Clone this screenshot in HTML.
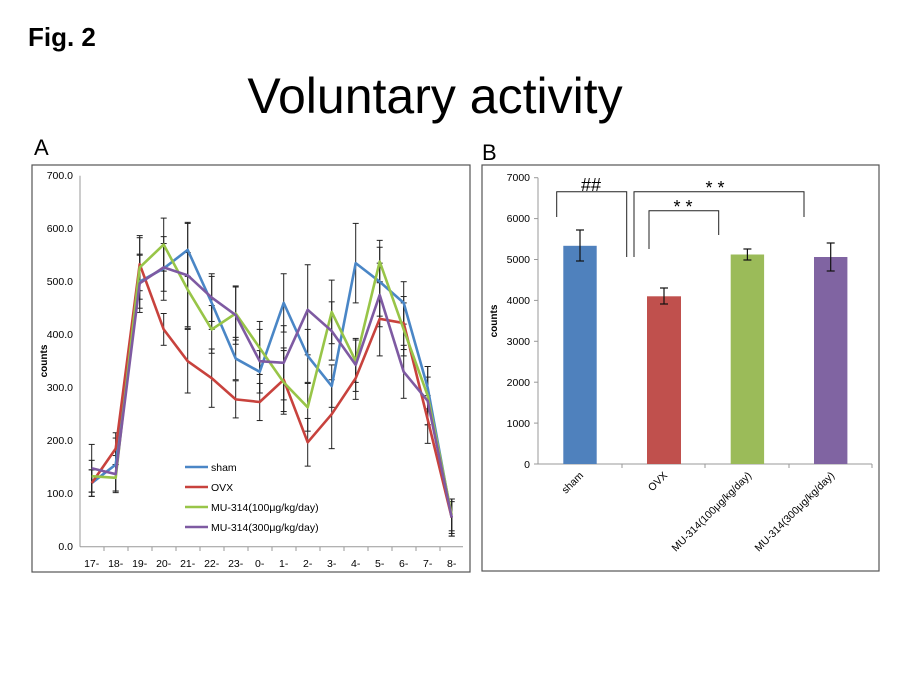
<!DOCTYPE html><html><head><meta charset="utf-8"><style>body{margin:0;background:#fff}svg{display:block}</style></head><body>
<svg width="900" height="675" xmlns="http://www.w3.org/2000/svg" font-family="Liberation Sans, sans-serif">
<text x="28" y="46" font-size="26" font-weight="bold">Fig. 2</text>
<text x="435" y="113" font-size="50" text-anchor="middle">Voluntary activity</text>
<text x="34" y="155" font-size="22">A</text>
<text x="482" y="160" font-size="22">B</text>
<rect x="32" y="165" width="438" height="407" fill="none" stroke="#555" stroke-width="1.2"/>
<rect x="482" y="165" width="397" height="406" fill="none" stroke="#555" stroke-width="1.2"/>
<g id="A" font-size="10.5">
<line x1="80" y1="175.7" x2="80" y2="546.7" stroke="#999"/>
<line x1="80" y1="546.7" x2="463" y2="546.7" stroke="#999"/>
<g text-anchor="end">
<text x="73" y="550">0.0</text><text x="73" y="497">100.0</text><text x="73" y="444">200.0</text><text x="73" y="391">300.0</text><text x="73" y="338">400.0</text><text x="73" y="285">500.0</text><text x="73" y="232">600.0</text><text x="73" y="179">700.0</text>
</g>
<text transform="translate(47,361) rotate(-90)" font-size="10" font-weight="bold" text-anchor="middle">counts</text>
<g text-anchor="middle">
<text x="91.7" y="567">17-</text><text x="115.7" y="567">18-</text><text x="139.7" y="567">19-</text><text x="163.7" y="567">20-</text><text x="187.7" y="567">21-</text><text x="211.7" y="567">22-</text><text x="235.7" y="567">23-</text><text x="259.7" y="567">0-</text><text x="283.7" y="567">1-</text><text x="307.7" y="567">2-</text><text x="331.7" y="567">3-</text><text x="355.7" y="567">4-</text><text x="379.7" y="567">5-</text><text x="403.7" y="567">6-</text><text x="427.7" y="567">7-</text><text x="451.7" y="567">8-</text>
</g>
<g stroke="#999">
<line x1="104" y1="547" x2="104" y2="551"/><line x1="128" y1="547" x2="128" y2="551"/><line x1="152" y1="547" x2="152" y2="551"/><line x1="176" y1="547" x2="176" y2="551"/><line x1="200" y1="547" x2="200" y2="551"/><line x1="224" y1="547" x2="224" y2="551"/><line x1="248" y1="547" x2="248" y2="551"/><line x1="272" y1="547" x2="272" y2="551"/><line x1="296" y1="547" x2="296" y2="551"/><line x1="320" y1="547" x2="320" y2="551"/><line x1="344" y1="547" x2="344" y2="551"/><line x1="368" y1="547" x2="368" y2="551"/><line x1="392" y1="547" x2="392" y2="551"/><line x1="416" y1="547" x2="416" y2="551"/><line x1="440" y1="547" x2="440" y2="551"/>
</g>
<g stroke="#222" stroke-width="1" id="eb"></g>
<g fill="none" stroke-width="2.6" stroke-linejoin="round">
<polyline id="s" stroke="#4a86c6"/>
<polyline id="o" stroke="#c8423d"/>
<polyline id="g" stroke="#98c548"/>
<polyline id="p" stroke="#7e5aa2"/>
</g>
<g stroke-width="2.6"><line x1="185" y1="467" x2="208" y2="467" stroke="#4a86c6"/><line x1="185" y1="487" x2="208" y2="487" stroke="#c8423d"/><line x1="185" y1="507" x2="208" y2="507" stroke="#98c548"/><line x1="185" y1="527" x2="208" y2="527" stroke="#7e5aa2"/></g>
<text x="211" y="471">sham</text><text x="211" y="491">OVX</text><text x="211" y="511">MU-314(100μg/kg/day)</text><text x="211" y="531">MU-314(300μg/kg/day)</text>
</g>
<g id="B" font-size="10.5">
<line x1="538" y1="177.7" x2="538" y2="464" stroke="#999"/>
<line x1="538" y1="464" x2="872" y2="464" stroke="#999"/>
<g stroke="#999"><line x1="538" y1="177.7" x2="534" y2="177.7"/><line x1="538" y1="218.6" x2="534" y2="218.6"/><line x1="538" y1="259.5" x2="534" y2="259.5"/><line x1="538" y1="300.4" x2="534" y2="300.4"/><line x1="538" y1="341.3" x2="534" y2="341.3"/><line x1="538" y1="382.2" x2="534" y2="382.2"/><line x1="538" y1="423.1" x2="534" y2="423.1"/><line x1="538" y1="464" x2="534" y2="464"/><line x1="622" y1="464" x2="622" y2="468"/><line x1="705" y1="464" x2="705" y2="468"/><line x1="789" y1="464" x2="789" y2="468"/><line x1="872" y1="464" x2="872" y2="468"/></g>
<g text-anchor="end"><text x="530" y="468">0</text><text x="530" y="427">1000</text><text x="530" y="386">2000</text><text x="530" y="345">3000</text><text x="530" y="304">4000</text><text x="530" y="263">5000</text><text x="530" y="222">6000</text><text x="530" y="181">7000</text></g>
<text transform="translate(497,321) rotate(-90)" font-size="10" font-weight="bold" text-anchor="middle">counts</text>
<rect x="563.3" y="245.8" width="33.4" height="218.2" fill="#4f81bd"/>
<rect x="647" y="296.3" width="34" height="167.7" fill="#c0504d"/>
<rect x="730.7" y="254.5" width="33.4" height="209.5" fill="#9bbb59"/>
<rect x="814" y="257" width="33.4" height="207" fill="#8064a2"/>
<g stroke="#111" stroke-width="1.2">
<line x1="580" y1="230" x2="580" y2="261"/><line x1="576" y1="230" x2="584" y2="230"/><line x1="576" y1="261" x2="584" y2="261"/>
<line x1="664" y1="288" x2="664" y2="304"/><line x1="660" y1="288" x2="668" y2="288"/><line x1="660" y1="304" x2="668" y2="304"/>
<line x1="747.4" y1="249" x2="747.4" y2="260"/><line x1="743.4" y1="249" x2="751.4" y2="249"/><line x1="743.4" y1="260" x2="751.4" y2="260"/>
<line x1="830.7" y1="243" x2="830.7" y2="271"/><line x1="826.7" y1="243" x2="834.7" y2="243"/><line x1="826.7" y1="271" x2="834.7" y2="271"/>
</g>
<g fill="none" stroke="#222" stroke-width="1">
<polyline points="556.7,217 556.7,191.7 626.7,191.7 626.7,257"/>
<polyline points="634,257 634,191.7 804,191.7 804,217"/>
<polyline points="649,249 649,210.7 718.7,210.7 718.7,235"/>
</g>
<text x="591" y="191" font-size="18" text-anchor="middle">##</text>
<text x="715" y="194" font-size="18" text-anchor="middle">* *</text>
<text x="683" y="213" font-size="18" text-anchor="middle">* *</text>
<g text-anchor="end" font-size="10.5">
<text transform="translate(584,476) rotate(-45)">sham</text>
<text transform="translate(668,476) rotate(-45)">OVX</text>
<text transform="translate(752,476) rotate(-45)">MU-314(100μg/kg/day)</text>
<text transform="translate(835,476) rotate(-45)">MU-314(300μg/kg/day)</text>
</g>
</g>
</svg>
<script>
var ns="http://www.w3.org/2000/svg";
var d={s:[120,155,500,525,560,460,355,330,460,360,303,535,500,460,300,55],
o:[120,185,533,410,350,318,278,273,315,197,250,318,430,422,240,55],
g:[133,130,527,570,485,410,440,375,310,263,443,350,538,410,285,60],
p:[148,137,497,527,512,470,437,350,347,447,407,343,475,330,275,55]};
var e={s:[25,50,50,60,50,50,40,40,55,50,40,75,65,40,40,35],o:[25,30,50,30,60,55,35,35,60,45,65,40,70,50,45,30],g:[30,25,60,50,70,45,50,50,60,45,60,40,40,50,55,30],p:[45,35,55,45,100,45,55,60,70,85,55,50,60,50,45,35]};
var eb=document.getElementById("eb");
function Y(v){return 546.7-v*0.53;}
for(var k in d){var pts=[];d[k].forEach(function(v,i){var x=91.7+24*i;pts.push(x+","+Y(v));
var a=Y(v+e[k][i]),b=Y(v-e[k][i]);
[[x,a,x,b],[x-3,a,x+3,a],[x-3,b,x+3,b]].forEach(function(c){var l=document.createElementNS(ns,"line");l.setAttribute("x1",c[0]);l.setAttribute("y1",c[1]);l.setAttribute("x2",c[2]);l.setAttribute("y2",c[3]);eb.appendChild(l);});});
document.getElementById(k).setAttribute("points",pts.join(" "));}
</script>
</body></html>
